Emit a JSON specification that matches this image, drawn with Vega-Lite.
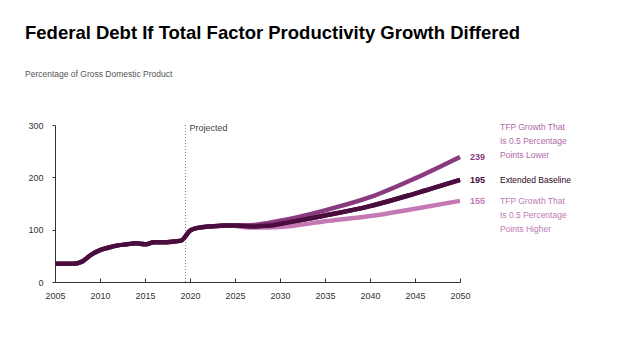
{
  "$schema": "https://vega.github.io/schema/vega-lite/v6.json",
  "width": 405,
  "height": 157,
  "autosize": "none",
  "padding": {"left": 55, "top": 125, "right": 178, "bottom": 77},
  "background": "white",
  "config": {"view": {"stroke": null}, "font": "Liberation Sans"},
  "title": {
    "text": "Federal Debt If Total Factor Productivity Growth Differed",
    "subtitle": "Percentage of Gross Domestic Product",
    "anchor": "start",
    "frame": "group",
    "dx": -30,
    "offset": 43,
    "font": "Liberation Sans",
    "fontSize": 18.5,
    "fontWeight": "bold",
    "color": "#000000",
    "subtitleFont": "Liberation Sans",
    "subtitleFontSize": 8.5,
    "subtitleColor": "#555555",
    "subtitlePadding": 27
  },
  "datasets": {
    "series": [
      {"year": 2005, "value": 35, "s": "base"},
      {"year": 2006, "value": 35, "s": "base"},
      {"year": 2007, "value": 35, "s": "base"},
      {"year": 2008, "value": 39, "s": "base"},
      {"year": 2009, "value": 52, "s": "base"},
      {"year": 2010, "value": 61, "s": "base"},
      {"year": 2011, "value": 66, "s": "base"},
      {"year": 2012, "value": 70, "s": "base"},
      {"year": 2013, "value": 72, "s": "base"},
      {"year": 2014, "value": 74, "s": "base"},
      {"year": 2015, "value": 72, "s": "base"},
      {"year": 2016, "value": 76, "s": "base"},
      {"year": 2017, "value": 76, "s": "base"},
      {"year": 2018, "value": 77, "s": "base"},
      {"year": 2019, "value": 79, "s": "base"},
      {"year": 2020, "value": 98, "s": "base"},
      {"year": 2021, "value": 104, "s": "base"},
      {"year": 2022, "value": 106, "s": "base"},
      {"year": 2023, "value": 107, "s": "base"},
      {"year": 2024, "value": 108, "s": "base"},
      {"year": 2025, "value": 108, "s": "base"},
      {"year": 2026, "value": 107, "s": "base"},
      {"year": 2027, "value": 106, "s": "base"},
      {"year": 2028, "value": 107, "s": "base"},
      {"year": 2029, "value": 108, "s": "base"},
      {"year": 2030, "value": 111, "s": "base"},
      {"year": 2035, "value": 127, "s": "base"},
      {"year": 2040, "value": 145, "s": "base"},
      {"year": 2045, "value": 169, "s": "base"},
      {"year": 2050, "value": 195, "s": "base"},
      {"year": 2025, "value": 108, "s": "lower"},
      {"year": 2027, "value": 109, "s": "lower"},
      {"year": 2030, "value": 117, "s": "lower"},
      {"year": 2035, "value": 137, "s": "lower"},
      {"year": 2040, "value": 162, "s": "lower"},
      {"year": 2045, "value": 198, "s": "lower"},
      {"year": 2050, "value": 239, "s": "lower"},
      {"year": 2025, "value": 107, "s": "higher"},
      {"year": 2027, "value": 104, "s": "higher"},
      {"year": 2030, "value": 105, "s": "higher"},
      {"year": 2035, "value": 116, "s": "higher"},
      {"year": 2040, "value": 126, "s": "higher"},
      {"year": 2045, "value": 140, "s": "higher"},
      {"year": 2050, "value": 155, "s": "higher"}
    ],
    "ends": [
      {"year": 2050, "value": 239, "s": "lower", "num": "239", "name": "TFP Growth That\nIs 0.5 Percentage\nPoints Lower"},
      {"year": 2050, "value": 195, "s": "base", "num": "195", "name": "Extended Baseline"},
      {"year": 2050, "value": 155, "s": "higher", "num": "155", "name": "TFP Growth That\nIs 0.5 Percentage\nPoints Higher"}
    ],
    "proj": [{"year": 2019.5, "value": 0, "top": 300, "label": "Projected"}]
  },
  "layer": [
    {
      "data": {"name": "proj"},
      "mark": {"type": "rule", "color": "#888888", "strokeDash": [1, 2], "strokeWidth": 1},
      "encoding": {
        "x": {"field": "year", "type": "quantitative"},
        "y": {"field": "value", "type": "quantitative"},
        "y2": {"field": "top"}
      }
    },
    {
      "data": {"name": "proj"},
      "mark": {"type": "text", "align": "left", "baseline": "top", "dx": 4, "dy": -1, "fontSize": 9, "color": "#444444"},
      "encoding": {
        "x": {"field": "year", "type": "quantitative"},
        "y": {"field": "top", "type": "quantitative"},
        "text": {"field": "label"}
      }
    },
    {
      "data": {"name": "series"},
      "mark": {"type": "line", "strokeWidth": 4.5, "strokeCap": "butt", "interpolate": "monotone"},
      "encoding": {
        "x": {
          "field": "year", "type": "quantitative",
          "scale": {"domain": [2005, 2050], "nice": false, "zero": false},
          "axis": {
            "title": null, "values": [2005, 2010, 2015, 2020, 2025, 2030, 2035, 2040, 2045, 2050],
            "format": "d", "labelFontSize": 9, "labelColor": "#333333", "labelPadding": 13,
            "labelFlush": false, "labelOverlap": false,
            "tickSize": -4, "tickColor": "#333333", "domainColor": "#333333", "grid": false,
            "labelFont": "Liberation Sans"
          }
        },
        "y": {
          "field": "value", "type": "quantitative",
          "scale": {"domain": [0, 300], "nice": false},
          "axis": {
            "title": null, "values": [0, 100, 200, 300], "labelFontSize": 9,
            "labelColor": "#333333", "labelPadding": 9, "tickSize": 3,
            "labelFlush": false,
            "tickColor": "#333333", "domainColor": "#333333", "grid": false,
            "labelFont": "Liberation Sans"
          }
        },
        "color": {
          "field": "s", "type": "nominal", "legend": null,
          "scale": {"domain": ["lower", "base", "higher"], "range": ["#8a3a7e", "#4b0d3e", "#c479b5"]}
        },
        "order": {"field": "year"}
      }
    },
    {
      "data": {"name": "series"},
      "transform": [{"filter": "datum.s === 'base'"}],
      "mark": {"type": "line", "strokeWidth": 4.5, "strokeCap": "butt", "interpolate": "monotone", "color": "#4b0d3e"},
      "encoding": {
        "x": {"field": "year", "type": "quantitative"},
        "y": {"field": "value", "type": "quantitative"}
      }
    },
    {
      "data": {"name": "ends"},
      "mark": {"type": "text", "align": "left", "baseline": "middle", "dx": 10, "fontSize": 9, "fontWeight": "bold"},
      "encoding": {
        "x": {"field": "year", "type": "quantitative"},
        "y": {"field": "value", "type": "quantitative"},
        "text": {"field": "num"},
        "color": {"field": "s", "type": "nominal", "legend": null,
          "scale": {"domain": ["lower", "base", "higher"], "range": ["#a9609d", "#2a0522", "#b56aa6"]}}
      }
    },
    {
      "data": {"name": "ends"},
      "transform": [{"filter": "datum.s === 'lower'"}],
      "mark": {"type": "text", "align": "left", "baseline": "top", "dx": 40, "dy": -34, "fontSize": 8.5, "lineHeight": 14, "lineBreak": "\n", "color": "#b06aa5"},
      "encoding": {
        "x": {"field": "year", "type": "quantitative"},
        "y": {"field": "value", "type": "quantitative"},
        "text": {"field": "name"}
      }
    },
    {
      "data": {"name": "ends"},
      "transform": [{"filter": "datum.s === 'base'"}],
      "mark": {"type": "text", "align": "left", "baseline": "middle", "dx": 40, "fontSize": 8.5, "color": "#2a0522"},
      "encoding": {
        "x": {"field": "year", "type": "quantitative"},
        "y": {"field": "value", "type": "quantitative"},
        "text": {"field": "name"}
      }
    },
    {
      "data": {"name": "ends"},
      "transform": [{"filter": "datum.s === 'higher'"}],
      "mark": {"type": "text", "align": "left", "baseline": "top", "dx": 40, "dy": -4, "fontSize": 8.5, "lineHeight": 14, "lineBreak": "\n", "color": "#c07ab2"},
      "encoding": {
        "x": {"field": "year", "type": "quantitative"},
        "y": {"field": "value", "type": "quantitative"},
        "text": {"field": "name"}
      }
    }
  ]
}
